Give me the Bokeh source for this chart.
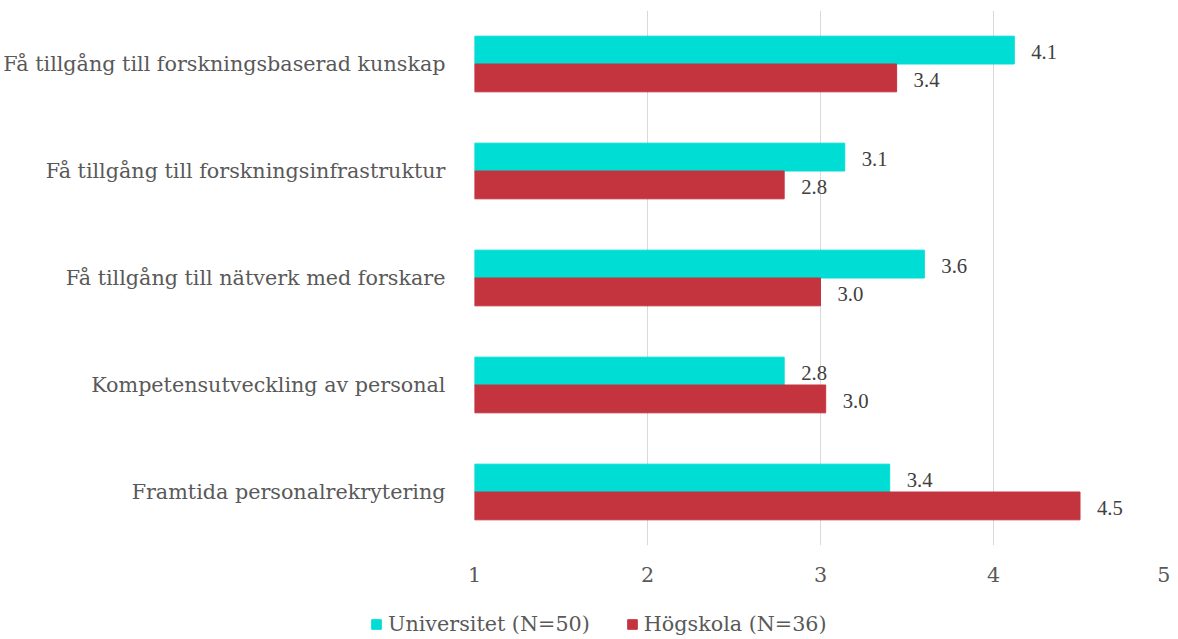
from bokeh.plotting import figure
from bokeh.models import ColumnDataSource, Range1d, LabelSet, Legend, LegendItem, FixedTicker
from bokeh.layouts import column
from bokeh.transform import dodge
from bokeh.embed import file_html
from bokeh.resources import INLINE

categories = [
    "Få tillgång till forskningsbaserad kunskap",
    "Få tillgång till forskningsinfrastruktur",
    "Få tillgång till nätverk med forskare",
    "Kompetensutveckling av personal",
    "Framtida personalrekrytering",
]
universitet = [4.12, 3.14, 3.60, 2.79, 3.40]
hogskola = [3.44, 2.79, 3.00, 3.03, 4.50]
series_names = ["Universitet (N=50)", "Högskola (N=36)"]
x_ticks = [1, 2, 3, 4, 5]

FONT = "DejaVu Serif"
FS = "20.7px"
CYAN = "#00DDD5"
RED = "#C4343F"

src = ColumnDataSource(dict(
    cat=categories,
    uni=universitet,
    hog=hogskola,
    uni_txt=[f"{v:.1f}" for v in universitet],
    hog_txt=[f"{v:.1f}" for v in hogskola],
))

p = figure(
    width=1170, height=595,
    y_range=list(reversed(categories)),
    x_range=Range1d(1, 5),
    output_backend="svg", toolbar_location=None,
    min_border_left=473, min_border_right=4, min_border_top=10, min_border_bottom=50,
)

r_uni = p.hbar(y=dodge("cat", 0.13, range=p.y_range), left=1, right="uni", height=0.26,
               source=src, fill_color=CYAN, line_color=CYAN)
r_hog = p.hbar(y=dodge("cat", -0.13, range=p.y_range), left=1, right="hog", height=0.26,
               source=src, fill_color=RED, line_color=RED)

for col, txt, off in (("uni", "uni_txt", 0.13), ("hog", "hog_txt", -0.13)):
    p.add_layout(LabelSet(x=col, y=dodge("cat", off, range=p.y_range), text=txt, source=src,
                          x_offset=17, y_offset=-2, text_baseline="middle",
                          text_font=FONT, text_font_size=FS, text_color="#404040"))

p.outline_line_color = None
p.ygrid.grid_line_color = None
p.xgrid.grid_line_color = "#d9d9d9"
p.xgrid.grid_line_width = 1
p.xaxis.ticker = FixedTicker(ticks=x_ticks)

for ax in (p.xaxis[0], p.yaxis[0]):
    ax.axis_line_color = None
    ax.major_tick_line_color = None
    ax.minor_tick_line_color = None
    ax.major_label_text_font = FONT
    ax.major_label_text_color = "#595959"
    ax.major_label_text_font_size = FS

p.yaxis.major_label_standoff = 23
p.xaxis.major_label_standoff = 15

# legend strip below the chart (its own figure, frame spanning the full width)
lg = figure(
    width=1170, height=44, x_range=Range1d(0, 1), y_range=Range1d(0, 1),
    x_axis_type=None, y_axis_type=None,
    output_backend="svg", toolbar_location=None,
    min_border_left=0, min_border_right=0, min_border_top=0, min_border_bottom=0,
)
if "frame_align" in lg.properties():
    lg.frame_align = False
lg.outline_line_color = None
lg.xgrid.grid_line_color = None
lg.ygrid.grid_line_color = None
# off-range placeholder rows so that the legend swatches are drawn
swatch = ColumnDataSource(dict(x=[-1], y=[-1]))
l_uni = lg.rect(x="x", y="y", width=0.1, height=0.1, source=swatch, fill_color=CYAN, line_color=CYAN)
l_hog = lg.rect(x="x", y="y", width=0.1, height=0.1, source=swatch, fill_color=RED, line_color=RED)

legend = Legend(
    items=[LegendItem(label=series_names[0], renderers=[l_uni]),
           LegendItem(label=series_names[1], renderers=[l_hog])],
    orientation="horizontal", location=(370, 3),
    label_text_font=FONT, label_text_font_size=FS, label_text_color="#595959",
    glyph_width=12, glyph_height=12, label_standoff=6, spacing=36,
    border_line_color=None, background_fill_alpha=0, padding=0, margin=0,
)
lg.add_layout(legend)

layout = column(p, lg, spacing=0)
open("out.html", "w").write(file_html(layout, INLINE))
